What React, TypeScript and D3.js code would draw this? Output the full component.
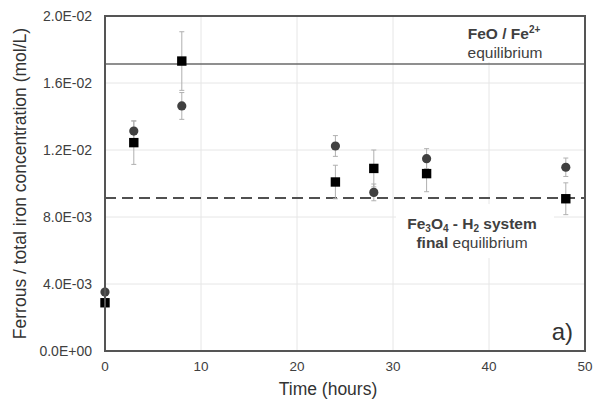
import React from "react";
import * as d3 from "d3";

const times = [0, 3, 8, 24, 28, 33.5, 48];
const circleValues = [0.00352, 0.01313, 0.01463, 0.01224, 0.00947, 0.01148, 0.01097];
const circleErrors = [0, 0.0006, 0.0008, 0.00062, 0.0005, 0.0006, 0.00055];
const squareValues = [0.00288, 0.01244, 0.01731, 0.01009, 0.0109, 0.01059, 0.00909];
const squareErrors = [0, 0.0013, 0.00175, 0.001, 0.0011, 0.00108, 0.00095];
const xTicks = [0, 10, 20, 30, 40, 50];
const yTicks = [0, 0.004, 0.008, 0.012, 0.016, 0.02];
const yTickLabels = ["0.0E+00", "4.0E-03", "8.0E-03", "1.2E-02", "1.6E-02", "2.0E-02"];
const feoEquilibrium = 0.01713;
const magnetiteEquilibrium = 0.00913;

const W = 593;
const H = 401;
const left = 105;
const right = 585;
const top = 16;
const bottom = 351;
const FONT = "'Liberation Sans', Arial, Helvetica, sans-serif";

export default function App() {
  const x = d3.scaleLinear().domain([0, 50]).range([left, right]);
  const y = d3.scaleLinear().domain([0, 0.02]).range([bottom, top]);
  const cap = 2.5;

  const errBar = (t: number, v: number, e: number, key: string) => {
    if (!e) return null;
    const cx = x(t);
    return (
      <g key={key} stroke="#b0b0b0" strokeWidth={1}>
        <line x1={cx} x2={cx} y1={y(v + e)} y2={y(v - e)} />
        <line x1={cx - cap} x2={cx + cap} y1={y(v + e)} y2={y(v + e)} />
        <line x1={cx - cap} x2={cx + cap} y1={y(v - e)} y2={y(v - e)} />
      </g>
    );
  };

  return (
    <svg width={W} height={H} style={{ position: "absolute", left: 0, top: 0, background: "#fff" }} fontFamily={FONT}>
      <rect x={0} y={0} width={W} height={H} fill="#fff" />
      {/* gridlines */}
      <g stroke="#e6e6e6" strokeWidth={1}>
        {xTicks.slice(1, -1).map((t) => (
          <line key={"gx" + t} x1={x(t)} x2={x(t)} y1={top} y2={bottom} />
        ))}
        {yTicks.slice(1, -1).map((v) => (
          <line key={"gy" + v} x1={left} x2={right} y1={y(v)} y2={y(v)} />
        ))}
      </g>
      {/* label backgrounds */}
      <rect x={440} y={top + 1} width={right - 441} height={y(feoEquilibrium) - top - 3} fill="#fff" />
      <rect x={396} y={y(magnetiteEquilibrium) + 6} width={158} height={54} fill="#fff" />

      {/* equilibrium lines */}
      <line x1={left} x2={right} y1={y(feoEquilibrium)} y2={y(feoEquilibrium)} stroke="#6a6a6a" strokeWidth={1.5} />
      <line x1={left} x2={right} y1={y(magnetiteEquilibrium)} y2={y(magnetiteEquilibrium)} stroke="#505050" strokeWidth={2} strokeDasharray="11,6" />

      {/* error bars */}
      {times.map((t, i) => errBar(t, circleValues[i], circleErrors[i], "ce" + i))}
      {times.map((t, i) => errBar(t, squareValues[i], squareErrors[i], "se" + i))}

      {/* points */}
      {times.map((t, i) => (
        <circle key={"c" + i} cx={x(t)} cy={y(circleValues[i])} r={4.6} fill="#404040" />
      ))}
      {times.map((t, i) => (
        <rect key={"s" + i} x={x(t) - 4.7} y={y(squareValues[i]) - 4.7} width={9.4} height={9.4} fill="#000" />
      ))}

      {/* frame */}
      <rect x={left} y={top} width={right - left} height={bottom - top} fill="none" stroke="#555" strokeWidth={2} />

      {/* y ticks */}
      {yTicks.map((v, i) => (
        <text key={"yt" + v} x={92} y={y(v) + 5} textAnchor="end" fontSize={14} fill="#404040">
          {yTickLabels[i]}
        </text>
      ))}
      {xTicks.map((t) => (
        <text key={"xt" + t} x={x(t)} y={371} textAnchor="middle" fontSize={13.5} fill="#404040">
          {t}
        </text>
      ))}

      {/* axis titles */}
      <text x={328} y={395} textAnchor="middle" fontSize={17.5} fill="#333">
        Time (hours)
      </text>
      <text transform={`translate(26,${(top + bottom) / 2}) rotate(-90)`} textAnchor="middle" fontSize={17.5} fill="#333">
        Ferrous / total iron concentration (mol/L)
      </text>

      {/* annotations */}
      <text x={504} y={39} textAnchor="middle" fontSize={15.5} fontWeight="bold" fill="#404040">
        FeO / Fe<tspan fontSize={10} dy={-6}>2+</tspan>
      </text>
      <text x={505} y={58} textAnchor="middle" fontSize={15.5} fill="#404040">
        equilibrium
      </text>
      <text x={472} y={229} textAnchor="middle" fontSize={15.5} fontWeight="bold" fill="#404040">
        Fe<tspan fontSize={10} dy={3}>3</tspan>
        <tspan dy={-3}>O</tspan>
        <tspan fontSize={10} dy={3}>4</tspan>
        <tspan dy={-3}> - H</tspan>
        <tspan fontSize={10} dy={3}>2</tspan>
        <tspan dy={-3}> system</tspan>
      </text>
      <text x={472} y={248} textAnchor="middle" fontSize={15.5} fill="#404040">
        <tspan fontWeight="bold">final</tspan> equilibrium
      </text>
      <text x={573} y={340} textAnchor="end" fontSize={24} fill="#333">
        a)
      </text>
    </svg>
  );
}
